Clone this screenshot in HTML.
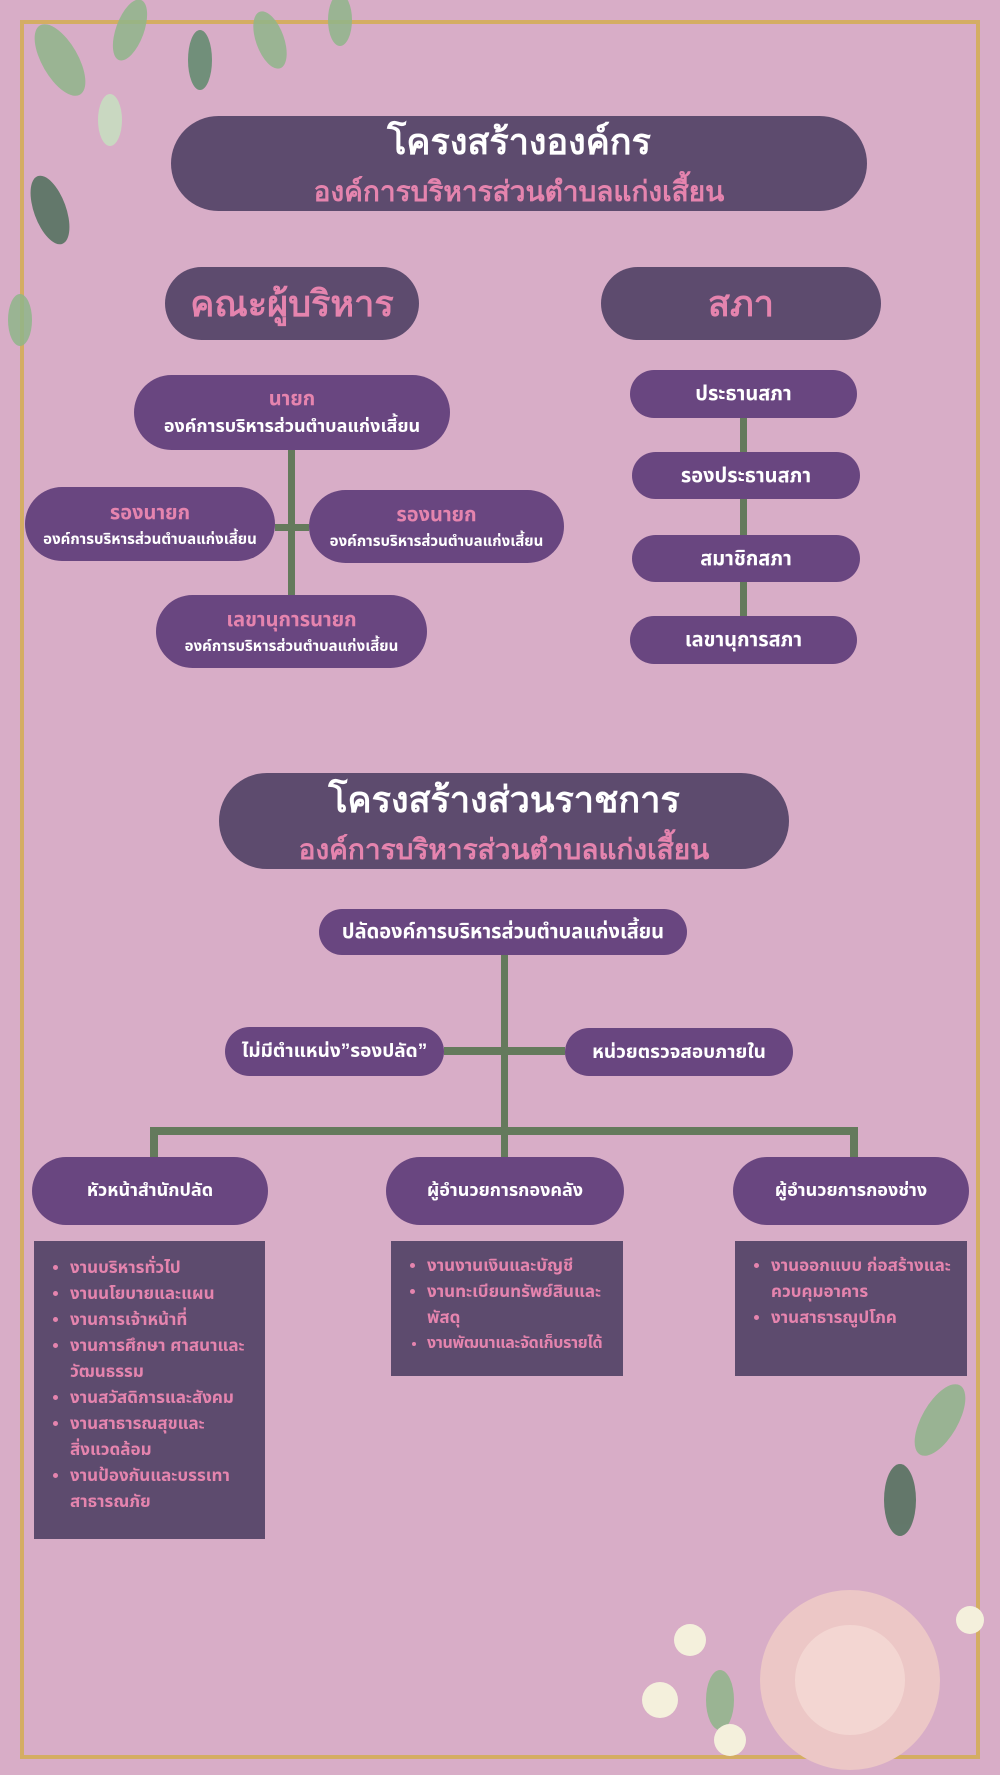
<!DOCTYPE html>
<html><head><meta charset="utf-8"><style>
*{margin:0;padding:0;box-sizing:border-box}
body{width:1000px;height:1775px;background:#d8adc7;position:relative;overflow:hidden;font-family:"Liberation Sans","Noto Sans Thai","Loma","Garuda",sans-serif;font-weight:bold}
.a{position:absolute}
.frame{left:20px;top:20px;width:960px;height:1739px;border:4px solid #d4ad63}
.pill{position:absolute;display:flex;flex-direction:column;align-items:center;justify-content:center;text-align:center;border-radius:40px;color:#fff}
.dk{background:#5d4b6e}
.nd{background:#694680}
.pk{color:#e584ae}
.ln{position:absolute;background:#647a5c}
.list{position:absolute;background:#5d4b6e;color:#e584ae;font-size:17px;line-height:26px;padding:14px 4px 0 8px;overflow:hidden}
.list ul{padding-left:28px}
.nw{white-space:nowrap;letter-spacing:-0.3px}
</style></head><body>
<div class="a frame"></div>
<svg class="a" style="left:0;top:0" width="420" height="420">
<g fill="#8fb58a" opacity=".85">
<ellipse cx="60" cy="60" rx="18" ry="40" transform="rotate(-30 60 60)"/>
<ellipse cx="130" cy="30" rx="14" ry="32" transform="rotate(20 130 30)"/>
<ellipse cx="200" cy="60" rx="12" ry="30" fill="#5f8a6c"/>
<ellipse cx="270" cy="40" rx="14" ry="30" transform="rotate(-20 270 40)"/>
<ellipse cx="340" cy="20" rx="12" ry="26"/>
<ellipse cx="50" cy="210" rx="16" ry="36" fill="#4f6e5a" transform="rotate(-20 50 210)"/>
<ellipse cx="20" cy="320" rx="12" ry="26"/>
<ellipse cx="110" cy="120" rx="12" ry="26" fill="#c7e0c0"/>
</g></svg>
<svg class="a" style="left:600px;top:1380px" width="400" height="395">
<g fill="#8fb58a" opacity=".85">
<ellipse cx="340" cy="40" rx="18" ry="40" transform="rotate(30 340 40)"/>
<ellipse cx="300" cy="120" rx="16" ry="36" fill="#4f6e5a"/>
<ellipse cx="120" cy="320" rx="14" ry="30"/>
</g>
<circle cx="250" cy="300" r="90" fill="#ecc7c6"/>
<circle cx="250" cy="300" r="55" fill="#f3d6d2"/>
<g fill="#f4f0dc"><circle cx="90" cy="260" r="16"/><circle cx="60" cy="320" r="18"/><circle cx="130" cy="360" r="16"/><circle cx="370" cy="240" r="14"/></g>
</svg>

<div class="pill dk" style="left:171px;top:116px;width:696px;height:95px;border-radius:48px">
<div style="font-size:36px;font-family:'Liberation Serif',serif">โครงสร้างองค์กร</div>
<div class="pk" style="font-size:28px;font-family:'Liberation Serif',serif">องค์การบริหารส่วนตำบลแก่งเสี้ยน</div></div>

<div class="pill dk pk" style="left:165px;top:267px;width:254px;height:73px;font-size:36px;font-family:'Liberation Serif',serif">คณะผู้บริหาร</div>
<div class="pill dk pk" style="left:601px;top:267px;width:280px;height:73px;font-size:36px;font-family:'Liberation Serif',serif">สภา</div>

<div class="ln" style="left:288px;top:450px;width:7px;height:145px"></div>
<div class="ln" style="left:275px;top:524px;width:34px;height:7px"></div>
<div class="pill nd" style="left:134px;top:375px;width:316px;height:75px"><div class="pk" style="font-size:20px">นายก</div><div style="font-size:18px">องค์การบริหารส่วนตำบลแก่งเสี้ยน</div></div>
<div class="pill nd" style="left:25px;top:487px;width:250px;height:74px"><div class="pk" style="font-size:20px">รองนายก</div><div style="font-size:15px">องค์การบริหารส่วนตำบลแก่งเสี้ยน</div></div>
<div class="pill nd" style="left:309px;top:490px;width:255px;height:73px"><div class="pk" style="font-size:20px">รองนายก</div><div style="font-size:15px">องค์การบริหารส่วนตำบลแก่งเสี้ยน</div></div>
<div class="pill nd" style="left:156px;top:595px;width:271px;height:73px"><div class="pk" style="font-size:20px">เลขานุการนายก</div><div style="font-size:15px">องค์การบริหารส่วนตำบลแก่งเสี้ยน</div></div>

<div class="ln" style="left:740px;top:418px;width:7px;height:200px"></div>
<div class="pill nd" style="left:630px;top:370px;width:227px;height:48px;font-size:20px">ประธานสภา</div>
<div class="pill nd" style="left:632px;top:452px;width:228px;height:47px;font-size:20px">รองประธานสภา</div>
<div class="pill nd" style="left:632px;top:535px;width:228px;height:47px;font-size:20px">สมาชิกสภา</div>
<div class="pill nd" style="left:630px;top:616px;width:227px;height:48px;font-size:20px">เลขานุการสภา</div>

<div class="pill dk" style="left:219px;top:773px;width:570px;height:96px;border-radius:48px">
<div style="font-size:36px;font-family:'Liberation Serif',serif">โครงสร้างส่วนราชการ</div>
<div class="pk" style="font-size:28px;font-family:'Liberation Serif',serif">องค์การบริหารส่วนตำบลแก่งเสี้ยน</div></div>

<div class="ln" style="left:501px;top:955px;width:7px;height:202px"></div>
<div class="ln" style="left:444px;top:1047px;width:121px;height:8px"></div>
<div class="ln" style="left:150px;top:1127px;width:707px;height:8px"></div>
<div class="ln" style="left:150px;top:1127px;width:8px;height:32px"></div>
<div class="ln" style="left:850px;top:1127px;width:8px;height:32px"></div>

<div class="pill nd" style="left:319px;top:909px;width:368px;height:46px;font-size:20px">ปลัดองค์การบริหารส่วนตำบลแก่งเสี้ยน</div>
<div class="pill nd" style="left:225px;top:1027px;width:219px;height:49px;font-size:19px">ไม่มีตำแหน่ง”รองปลัด”</div>
<div class="pill nd" style="left:565px;top:1028px;width:228px;height:48px;font-size:19px">หน่วยตรวจสอบภายใน</div>

<div class="pill nd" style="left:32px;top:1157px;width:236px;height:68px;font-size:18px">หัวหน้าสำนักปลัด</div>
<div class="pill nd" style="left:386px;top:1157px;width:238px;height:68px;font-size:18px">ผู้อำนวยการกองคลัง</div>
<div class="pill nd" style="left:733px;top:1157px;width:236px;height:68px;font-size:18px">ผู้อำนวยการกองช่าง</div>

<div class="list" style="left:34px;top:1241px;width:231px;height:298px"><ul>
<li>งานบริหารทั่วไป</li><li>งานนโยบายและแผน</li><li>งานการเจ้าหน้าที่</li><li>งานการศึกษา ศาสนาและ<br>วัฒนธรรม</li><li>งานสวัสดิการและสังคม</li><li>งานสาธารณสุขและ<br>สิ่งแวดล้อม</li><li>งานป้องกันและบรรเทา<br>สาธารณภัย</li></ul></div>
<div class="list" style="left:391px;top:1241px;width:232px;height:135px;padding-top:12px"><ul>
<li>งานงานเงินและบัญชี</li><li>งานทะเบียนทรัพย์สินและ<br>พัสดุ</li><li class="nw" style="font-size:16px">งานพัฒนาและจัดเก็บรายได้</li></ul></div>
<div class="list" style="left:735px;top:1241px;width:232px;height:135px;padding-top:12px"><ul>
<li>งานออกแบบ ก่อสร้างและ<br>ควบคุมอาคาร</li><li>งานสาธารณูปโภค</li></ul></div>
</body></html>
